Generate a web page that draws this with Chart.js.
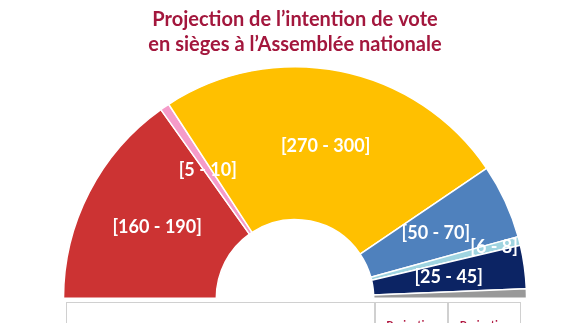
<!DOCTYPE html>
<html lang="fr">
<head>
<meta charset="UTF-8">
<script src="https://cdn.jsdelivr.net/npm/chart.js"></script>
<title>Projection en sièges</title>
<style>
  body { margin: 0; background: #fff; }
  #wrap { position: relative; width: 580px; height: 323px; overflow: hidden; }
  #tbl { position: absolute; left: 66px; top: 302px; width: 455px; height: 40px;
         border: 1px solid #d0d0d0; box-sizing: border-box; }
  .col { position: absolute; top: 0; height: 40px; border-left: 2px solid #d0d0d0;
         font: bold 11px Lato, sans-serif; color: #b0163f; text-align: center; padding-top: 15px; box-sizing: border-box; }
</style>
</head>
<body>
<div id="wrap">
  <canvas id="sieges" width="580" height="323"></canvas>
  <div id="tbl">
    <div class="col" style="left:307px;width:73px">Projection</div>
    <div class="col" style="left:380px;width:74px">Projection</div>
  </div>
</div>
<script>
  const partis = ['Gauche', 'Divers gauche', 'Majorité', 'LR-UDI', 'Divers droite', 'RN', 'Autres'];
  const sieges = [175, 7.5, 285, 60, 7, 35, 7.5];
  const fourchettes = ['[160 - 190]', '[5 - 10]', '[270 - 300]', '[50 - 70]', '[6 - 8]', '[25 - 45]', ''];
  const couleurs = ['#CC3333', '#F59BC9', '#FFC000', '#4F81BD', '#9FD4E0', '#0C2464', '#999999'];

  // étiquettes au centre de chaque secteur
  const etiquettes = {
    id: 'etiquettes',
    afterDatasetsDraw(chart, args, opts) {
      const ctx = chart.ctx;
      const arcs = chart.getDatasetMeta(0).data;
      ctx.save();
      ctx.font = 'bold 18px Lato, sans-serif';
      ctx.fillStyle = '#fff';
      ctx.textAlign = 'center';
      ctx.textBaseline = 'middle';
      arcs.forEach((arc, i) => {
        if (!fourchettes[i]) return;
        const p = arc.getProps(['x', 'y', 'startAngle', 'endAngle', 'innerRadius', 'outerRadius'], true);
        const a = (p.startAngle + p.endAngle) / 2;
        const f = opts.radius[i] || 0.5;
        const r = p.innerRadius + (p.outerRadius - p.innerRadius) * f;
        ctx.fillText(fourchettes[i], p.x + Math.cos(a) * r, p.y + Math.sin(a) * r);
      });
      ctx.restore();
    }
  };

  new Chart(document.getElementById('sieges'), {
    type: 'doughnut',
    data: {
      labels: partis,
      datasets: [{
        data: sieges,
        backgroundColor: couleurs,
        borderColor: '#fff',
        borderWidth: 1.5
      }]
    },
    options: {
      responsive: false,
      animation: false,
      rotation: -90,
      circumference: 180,
      cutout: '34%',
      layout: { padding: { left: 62, right: 52, top: 0, bottom: 24 } },
      plugins: {
        legend: { display: false },
        tooltip: { enabled: false },
        title: {
          display: true,
          text: ['Projection de l\u2019intention de vote', 'en sièges à l\u2019Assemblée nationale'],
          color: '#A3173D',
          font: { family: 'Lato', size: 20, weight: 'bold', lineHeight: 1.25 },
          padding: { top: 7, bottom: 9 }
        },
        etiquettes: { radius: { 4: 0.83 } }
      }
    },
    plugins: [etiquettes]
  });
</script>
</body>
</html>
